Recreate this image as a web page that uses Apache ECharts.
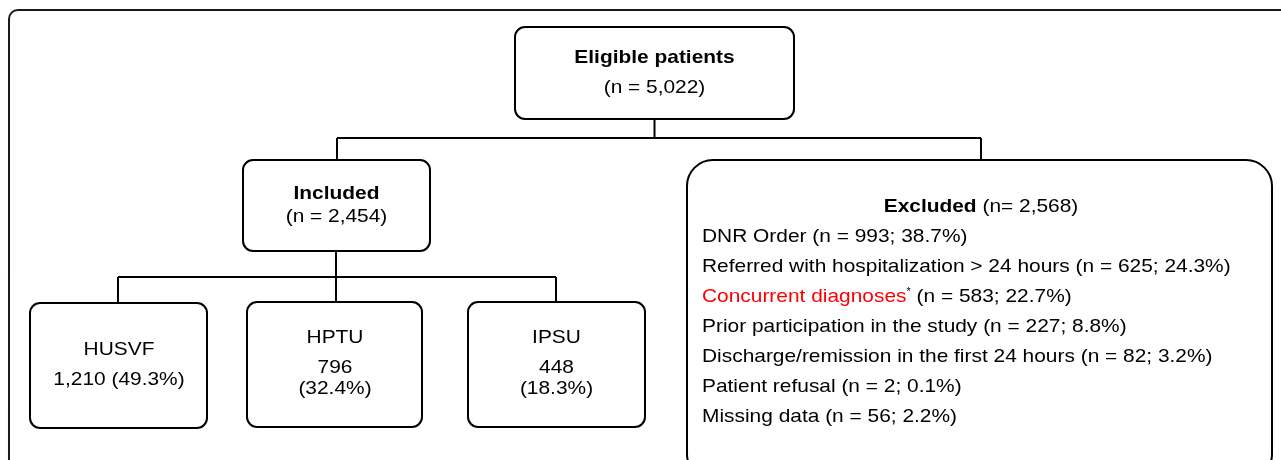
<!DOCTYPE html>
<html>
<head>
<meta charset="utf-8">
<script src="https://cdn.jsdelivr.net/npm/echarts@6/dist/echarts.min.js"></script>
<style>
  html, body { margin: 0; padding: 0; background: #fff; }
  #chart { width: 1281px; height: 460px; }
</style>
</head>
<body>
<div id="chart"></div>
<script>
// counts
const eligible = 5022;
const included = 2454;
const excluded = 2568;

const sites = ['HUSVF', 'HPTU', 'IPSU'];
const siteCounts = [1210, 796, 448];
const sitePct = [49.3, 32.4, 18.3];

const reasons = [
  'DNR Order',
  'Referred with hospitalization > 24 hours',
  'Concurrent diagnoses',
  'Prior participation in the study',
  'Discharge/remission in the first 24 hours',
  'Patient refusal',
  'Missing data'
];
const reasonCounts = [993, 625, 583, 227, 82, 2, 56];
const reasonPct = [38.7, 24.3, 22.7, 8.8, 3.2, 0.1, 2.2];

const fmt = n => n.toLocaleString('en-US');
const pct = p => p.toFixed(1) + '%';

const FONT = '"Liberation Sans", Arial, sans-serif';
const SIZE = 19;
const STRETCH = 1.1; // reference type is set a little wider than Arial

// box layout in chart units (x right, y down)
const boxes = [
  { x0: 9, y0: 10, x1: 1300, y1: 500, r: 9, lw: 2, stroke: '#1a1a1a', lines: [] },
  { x0: 515, y0: 27, x1: 794, y1: 119, r: 10, lines: [
    { x: 654.5, y: 58, text: '{b|Eligible patients}' },
    { x: 654.5, y: 88, text: '(n = ' + fmt(eligible) + ')' }
  ]},
  { x0: 243, y0: 160, x1: 430, y1: 251, r: 10, lines: [
    { x: 336.5, y: 194, text: '{b|Included}' },
    { x: 336.5, y: 217, text: '(n = ' + fmt(included) + ')' }
  ]},
  { x0: 30, y0: 303, x1: 207, y1: 428, r: 10, lines: [
    { x: 119, y: 350, text: sites[0] },
    { x: 119, y: 380, text: fmt(siteCounts[0]) + ' (' + pct(sitePct[0]) + ')' }
  ]},
  { x0: 247, y0: 302, x1: 422, y1: 427, r: 10, lines: [
    { x: 335, y: 338, text: sites[1] },
    { x: 335, y: 368, text: fmt(siteCounts[1]) },
    { x: 335, y: 389, text: '(' + pct(sitePct[1]) + ')' }
  ]},
  { x0: 468, y0: 302, x1: 645, y1: 427, r: 10, lines: [
    { x: 556.5, y: 338, text: sites[2] },
    { x: 556.5, y: 368, text: fmt(siteCounts[2]) },
    { x: 556.5, y: 389, text: '(' + pct(sitePct[2]) + ')' }
  ]},
  { x0: 687, y0: 160, x1: 1272, y1: 480, r: 26, lines: [
    { x: 981, y: 207, text: '{b|Excluded} (n= ' + fmt(excluded) + ')' }
  ].concat(reasons.map((name, i) => ({
    x: 702, y: 237 + i * 30, align: 'left',
    text: (i === 2 ? '{red|' + name + '}{sup|*}' : name) +
      ' (n = ' + fmt(reasonCounts[i]) + '; ' + pct(reasonPct[i]) + ')'
  })))}
];

const connectors = [
  [[654.5, 119], [654.5, 138]],
  [[337, 138], [981, 138]],
  [[337, 138], [337, 160]],
  [[981, 138], [981, 160]],
  [[336, 251], [336, 277]],
  [[118, 277], [556, 277]],
  [[118, 277], [118, 303]],
  [[336, 277], [336, 302]],
  [[556, 277], [556, 302]]
];

const rich = {
  b: { fontWeight: 'bold', fontSize: SIZE, fontFamily: FONT, fill: '#000' },
  red: { fill: '#ff0000', fontSize: SIZE, fontFamily: FONT },
  sup: { fontSize: 10, fontFamily: FONT, fill: '#000', verticalAlign: 'top', lineHeight: 12 }
};

function renderBox(params, api) {
  const b = boxes[api.value(0)];
  const p0 = api.coord([b.x0, b.y0]);
  const p1 = api.coord([b.x1, b.y1]);
  const children = [{
    type: 'rect',
    shape: { x: p0[0], y: p0[1], width: p1[0] - p0[0], height: p1[1] - p0[1], r: b.r },
    style: { fill: b.lines.length ? '#fff' : 'none', stroke: b.stroke || '#000', lineWidth: b.lw || 2 }
  }];
  b.lines.forEach(l => {
    const p = api.coord([l.x, l.y]);
    children.push({
      type: 'text',
      x: p[0], y: p[1],
      scaleX: STRETCH,
      style: {
        text: l.text,
        font: SIZE + 'px ' + FONT,
        fill: '#000',
        align: l.align || 'center',
        verticalAlign: 'middle',
        rich: rich
      }
    });
  });
  return { type: 'group', children: children };
}

const chart = echarts.init(document.getElementById('chart'));
chart.setOption({
  animation: false,
  grid: { left: 0, right: 0, top: 0, bottom: 0 },
  xAxis: { type: 'value', min: 0, max: 1281, show: false },
  yAxis: { type: 'value', min: 0, max: 460, inverse: true, show: false },
  series: [
    {
      type: 'lines',
      coordinateSystem: 'cartesian2d',
      polyline: true,
      silent: true,
      z: 1,
      lineStyle: { color: '#000', width: 2, opacity: 1 },
      data: connectors.map(c => ({ coords: c }))
    },
    {
      type: 'custom',
      z: 2,
      silent: true,
      renderItem: renderBox,
      data: boxes.map((b, i) => [i])
    }
  ]
});
</script>
</body>
</html>
